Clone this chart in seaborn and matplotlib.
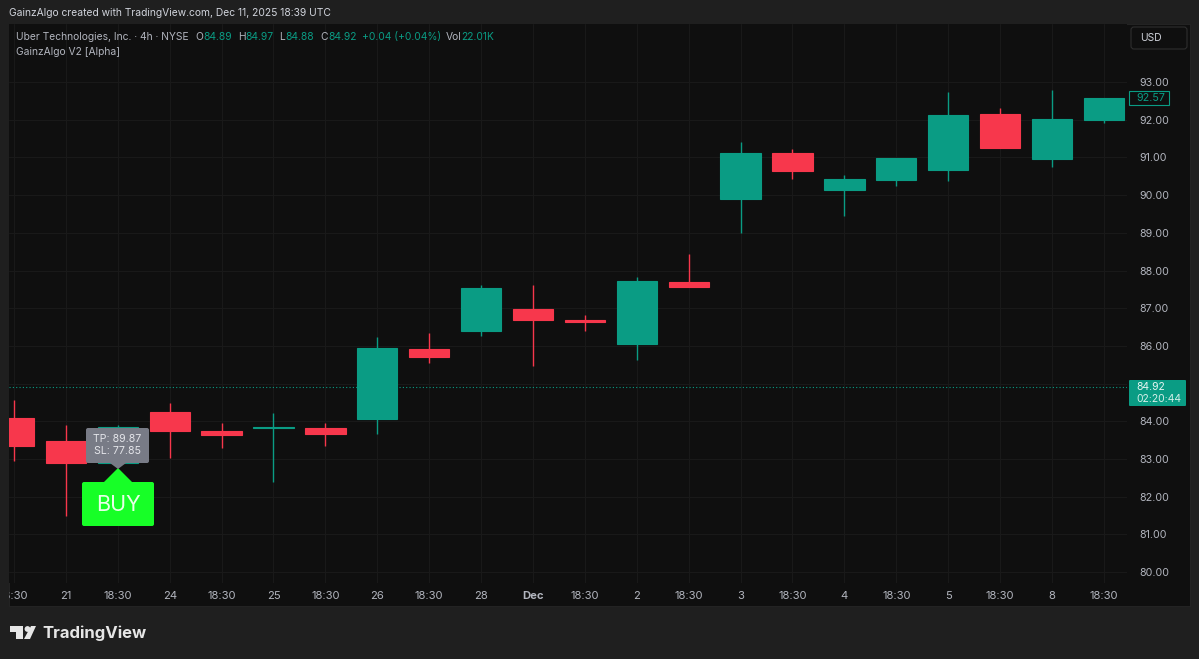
import matplotlib
matplotlib.use("Agg")
import matplotlib.pyplot as plt
import seaborn as sns
import pandas as pd
from matplotlib.patches import Rectangle, FancyBboxPatch, Polygon, Circle
from matplotlib.transforms import Affine2D

# candles
opens = [84.08, 83.47, 82.90, 84.25, 83.74, 83.81, 83.82, 84.06, 85.92, 86.39, 86.98,
         86.69, 86.05, 87.69, 89.90, 91.12, 90.13, 90.40, 90.67, 92.15, 90.96, 91.99]
closes = [83.34, 82.89, 83.85, 83.74, 83.63, 83.84, 83.66, 85.94, 85.70, 87.53, 86.69,
          86.63, 87.72, 87.56, 91.12, 90.64, 90.43, 90.98, 92.12, 91.25, 92.02, 92.57]
highs = [84.56, 83.90, 83.90, 84.48, 83.95, 84.22, 83.95, 86.23, 86.34, 87.61, 87.61,
         86.82, 87.83, 88.44, 91.41, 91.22, 90.53, 90.98, 92.73, 92.31, 92.79, 92.57]
lows = [82.94, 81.49, 82.85, 83.02, 83.29, 82.39, 83.34, 83.66, 85.54, 86.26, 85.46,
        86.39, 85.62, 87.56, 88.99, 90.43, 89.44, 90.24, 90.37, 91.25, 90.74, 91.91]
time_labels = ["18:30", "21", "18:30", "24", "18:30", "25", "18:30", "26", "18:30", "28", "Dec",
               "18:30", "2", "18:30", "3", "18:30", "4", "18:30", "5", "18:30", "8", "18:30"]
price_ticks = [80, 81, 82, 83, 84, 85, 86, 87, 88, 89, 90, 91, 92, 93]
last_price = 84.92
prev_close = 92.57

UP = "#0a9c84"
DOWN = "#f7374c"
BG = "#1f1f1f"
PANE = "#0f0f0f"
GRID = "#191919"
TXT = "#b2b5be"
FS = 7.4

W, H = 1199, 659

sns.set_theme(style="dark")
plt.rcParams["font.family"] = ["Inter", "DejaVu Sans"]

df = pd.DataFrame({"slot": range(len(opens)), "open": opens, "close": closes, "high": highs, "low": lows})
df["base"] = df[["open", "close"]].min(axis=1)
df["body"] = (df["close"] - df["open"]).abs()
df["side"] = ["up" if c >= o else "down" for o, c in zip(df["open"], df["close"])]

fig = plt.figure(figsize=(W / 100, H / 100), dpi=100, facecolor=BG)
# pixel coords, y going down
px = Affine2D().scale(1 / W, -1 / H).translate(0, 1) + fig.transFigure


def axes_rect(x0, y0, x1, y1):
    return [x0 / W, 1 - y1 / H, (x1 - x0) / W, (y1 - y0) / H]


# the pane sits behind the axes
fig.add_artist(Rectangle((9, 24), 1181, 582, transform=px, fc=PANE, ec="#262626", lw=0.6, zorder=-1))

ax = fig.add_axes(axes_rect(9, 24, 1127, 583))
ax.set_facecolor(PANE)

for side, color in [("up", UP), ("down", DOWN)]:
    part = df[df["side"] == side]
    sns.barplot(data=part, x="slot", y="body", order=list(df["slot"]), bottom=part["base"].values,
                color=color, width=0.775, ax=ax, linewidth=0.8, edgecolor=color, saturation=1)
    ax.vlines(part["slot"], part["low"], part["high"], color=color, lw=1, zorder=1.5)

ax.set_xlim((9 - 14) / 51.9, (1127 - 14) / 51.9)
ax.set_ylim(79.71, 94.54)
ax.set_xlabel("")
ax.set_ylabel("")
for s in ax.spines.values():
    s.set_visible(False)
ax.set_axisbelow(True)
ax.grid(True, color=GRID, lw=0.8)
ax.set_xticks(df["slot"])
ax.set_xticklabels(time_labels)
ax.set_yticks(price_ticks)
# 85.00 is hidden behind the last price tag
ax.set_yticklabels(["" if p == 85 else f"{p:.2f}" for p in price_ticks])
ax.yaxis.tick_right()
ax.tick_params(axis="x", length=0, pad=6, labelsize=FS + 0.7, labelcolor=TXT)
ax.tick_params(axis="y", length=0, pad=9, labelsize=FS + 0.3, labelcolor=TXT)
for lab, name in zip(ax.get_xticklabels(), time_labels):
    if name == "Dec":
        lab.set_fontweight("bold")
# first label is cut by the pane edge
ax.get_xticklabels()[0].set_clip_path(Rectangle((9, 24), 1181, 582, transform=px))
ax.get_xticklabels()[0].set_clip_on(True)

ax.axhline(last_price, color=UP, lw=0.8, ls=(0, (1, 2)))

# header
fig.text(9 / W, 1 - 13.5 / H, "GainzAlgo created with TradingView.com, Dec 11, 2025 18:39 UTC",
         color="#d1d4dc", fontsize=FS, va="center")
legend_bits = [(16, "Uber Technologies, Inc. · 4h · NYSE", TXT), (195, "O", TXT), (203, "84.89", UP),
               (238, "H", TXT), (245, "84.97", UP), (279, "L", TXT), (285, "84.88", UP),
               (320, "C", TXT), (328, "84.92", UP), (362, "+0.04 (+0.04%)", UP),
               (446, "Vol", TXT), (461, "22.01K", UP)]
for x, s, c in legend_bits:
    fig.text(x / W, 1 - 37 / H, s, color=c, fontsize=FS, va="center")
fig.text(16 / W, 1 - 52 / H, "GainzAlgo V2 [Alpha]", color=TXT, fontsize=FS, va="center")

# price scale tags
fig.add_artist(FancyBboxPatch((1132, 28), 54, 20, boxstyle="round,pad=1,rounding_size=3", transform=px,
                              fc=PANE, ec="#2e2e2e", lw=0.8))
fig.text(1140 / W, 1 - 38 / H, "USD", color="#d1d4dc", fontsize=FS, va="center")
fig.add_artist(Rectangle((1129, 91), 40, 14, transform=px, fc=PANE, ec=UP, lw=0.8))
fig.text(1136 / W, 1 - 98 / H, f"{prev_close:.2f}", color=UP, fontsize=FS + 0.3, va="center")
fig.add_artist(FancyBboxPatch((1130, 381), 55, 24, boxstyle="round,pad=1,rounding_size=1", transform=px,
                              fc=UP, ec=UP, lw=0))
fig.text(1136 / W, 1 - 386.5 / H, f"{last_price:.2f}", color="#e6f5f2", fontsize=FS + 0.1, va="center")
fig.text(1136 / W, 1 - 399.5 / H, "02:20:44", color="#d5efe9", fontsize=FS + 0.1, va="center")

# BUY tag and TP/SL tooltip
overlay = [
    Polygon([(104, 482), (118, 468), (132, 482)], transform=px, fc="#17ff27", ec="none"),
    FancyBboxPatch((83, 483), 70, 42, boxstyle="round,pad=1,rounding_size=2", transform=px, fc="#17ff27", ec="none"),
    Polygon([(110, 463), (118, 469), (126, 463)], transform=px, fc="#787b86", ec="none"),
    FancyBboxPatch((87, 429), 61, 33, boxstyle="round,pad=1,rounding_size=2", transform=px, fc="#787b86", ec="none"),
]
for p in overlay:
    p.set_zorder(5)
    fig.add_artist(p)
fig.text(118 / W, 1 - 505 / H, "BUY", color="#e8ffe8", fontsize=15.5, ha="center", va="center", zorder=6)
fig.text(117.5 / W, 1 - 439 / H, "TP: 89.87", color="#e4e5ea", fontsize=FS + 0.2, ha="center", va="center", zorder=6)
fig.text(117.5 / W, 1 - 451.5 / H, "SL: 77.85", color="#e4e5ea", fontsize=FS + 0.2, ha="center", va="center", zorder=6)

# footer logo
logo = [
    Polygon([(10, 626), (23, 626), (23, 639), (16, 639), (16, 632), (10, 632)], transform=px, fc="#e6e6e6", ec="none"),
    Circle((27.5, 629), 2.9, transform=px, fc="#e6e6e6", ec="none"),
    Polygon([(31, 626), (36, 626), (30, 639), (24, 639)], transform=px, fc="#e6e6e6", ec="none"),
]
for p in logo:
    fig.add_artist(p)
fig.text(42 / W, 1 - 633 / H, "TradingView", color="#e6e6e6", fontsize=12, fontweight="bold", va="center")

fig.savefig("out.png", dpi=100, facecolor=BG)
